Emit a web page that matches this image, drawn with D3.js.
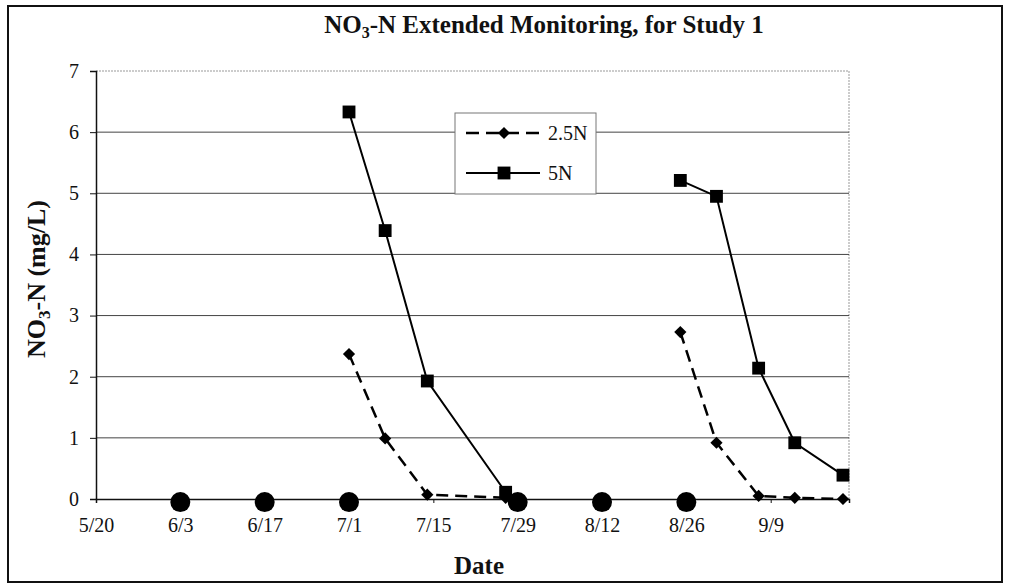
<!DOCTYPE html>
<html><head><meta charset="utf-8">
<script src="https://cdn.jsdelivr.net/npm/d3@7"></script>
<style>body{margin:0;background:#fff;} svg{display:block;}</style>
</head><body>
<svg id="c" width="1010" height="588"></svg>
<script>
// ---- data ----
const seriesNames = ["2.5N", "5N"];
const sampleDates = ["7/1","7/7","7/14","7/27",null,"8/25","8/31","9/7","9/13","9/21"];
const values25N = [2.37, 0.99, 0.07, 0.02, null, 2.73, 0.92, 0.05, 0.02, 0.00];
const values5N  = [6.33, 4.39, 1.93, 0.11, null, 5.21, 4.95, 2.14, 0.92, 0.39];
const circleDates  = ["6/3","6/17","7/1","7/29","8/12","8/26"];
const circleValues = [-0.05,-0.05,-0.05,-0.05,-0.05,-0.05];
const xTickLabels = ["5/20","6/3","6/17","7/1","7/15","7/29","8/12","8/26","9/9"];
const yTicks = [0,1,2,3,4,5,6,7];
const xDomain = ["5/20","9/22"];

const parse = s => s == null ? null : d3.timeParse("%Y/%m/%d")("2001/" + s);

const svg = d3.select("#c");
const L = 96, T = 71, R = 849, B = 499;
const x = d3.scaleTime().domain(xDomain.map(parse)).range([L, R]);
const y = d3.scaleLinear().domain([0, 7]).range([B, T]);
const serif = "'Liberation Serif','Times New Roman',serif";

// outer frame
svg.append("rect").attr("x",8).attr("y",6).attr("width",994).attr("height",576)
  .attr("fill","none").attr("stroke","#111").attr("stroke-width",2);

// title
const title = svg.append("text").attr("x",544).attr("y",33).attr("text-anchor","middle")
  .attr("font-family",serif).attr("font-weight","bold").attr("font-size",25).attr("fill","#111");
title.append("tspan").text("NO");
title.append("tspan").text("3").attr("font-size",16).attr("dy",5);
title.append("tspan").text("-N Extended Monitoring, for Study 1").attr("dy",-5);

// plot border (top/right light dotted)
svg.append("path").attr("d",`M${L},${T}H${R}V${B}`).attr("fill","none")
  .attr("stroke","#999").attr("stroke-width",1).attr("stroke-dasharray","2,1");

// gridlines
svg.append("g").selectAll("line").data(yTicks.filter(v => v > 0 && v < 7)).join("line")
  .attr("x1",L).attr("x2",R).attr("y1",d=>y(d)).attr("y2",d=>y(d))
  .attr("stroke","#444").attr("stroke-width",1);

// y axis
const yAxis = svg.append("g").attr("transform",`translate(${L},0)`)
  .call(d3.axisLeft(y).tickValues(yTicks).tickSize(6).tickPadding(11).tickFormat(d3.format("d")));
yAxis.select(".domain").attr("stroke","#111").attr("stroke-width",1.5);
yAxis.selectAll(".tick line").attr("stroke","#111");
yAxis.selectAll("text").attr("font-family",serif).attr("font-size",20).attr("fill","#111");

// x axis
const xAxis = svg.append("g").attr("transform",`translate(0,${B})`)
  .call(d3.axisBottom(x).tickValues(xTickLabels.map(parse)).tickSize(4).tickPadding(15)
    .tickFormat(d3.timeFormat("%-m/%-d")));
xAxis.select(".domain").attr("stroke","#111").attr("stroke-width",1.5);
xAxis.selectAll(".tick line").attr("stroke","#111");
xAxis.selectAll("text").attr("font-family",serif).attr("font-size",20).attr("fill","#111");

// axis titles
svg.append("text").attr("x",479).attr("y",574).attr("text-anchor","middle")
  .attr("font-family",serif).attr("font-weight","bold").attr("font-size",25).attr("fill","#111")
  .text("Date");
const yt = svg.append("text").attr("transform","translate(45,279) rotate(-90)").attr("text-anchor","middle")
  .attr("font-family",serif).attr("font-weight","bold").attr("font-size",26).attr("fill","#111");
yt.append("tspan").text("NO");
yt.append("tspan").text("3").attr("font-size",17).attr("dy",5);
yt.append("tspan").text("-N (mg/L)").attr("dy",-5);

// circles series
const circ = circleDates.map((d,i)=>({d:parse(d), v:circleValues[i]}));
svg.append("g").selectAll("circle").data(circ).join("circle")
  .attr("cx",d=>x(d.d)).attr("cy",d=>y(d.v)).attr("r",10).attr("fill","#000");

// lines
const rows = (vals) => sampleDates.map((d,i)=>({d:parse(d), v:vals[i]}));
const line = d3.line().defined(d=>d.v!=null).x(d=>x(d.d)).y(d=>y(d.v));
const r25 = rows(values25N), r5 = rows(values5N);
svg.append("path").datum(r25).attr("d",line).attr("fill","none").attr("stroke","#000")
  .attr("stroke-width",2.5).attr("stroke-dasharray","12,7");
svg.append("path").datum(r5).attr("d",line).attr("fill","none").attr("stroke","#000")
  .attr("stroke-width",2);

const diamond = d3.symbol().type(d3.symbolDiamond2).size(95);
const square = d3.symbol().type(d3.symbolSquare).size(165);
svg.append("g").selectAll("path").data(r25.filter(d=>d.v!=null)).join("path")
  .attr("transform",d=>`translate(${x(d.d)},${y(d.v)})`).attr("d",diamond).attr("fill","#000");
svg.append("g").selectAll("path").data(r5.filter(d=>d.v!=null)).join("path")
  .attr("transform",d=>`translate(${x(d.d)},${y(d.v)})`).attr("d",square).attr("fill","#000");

// legend
const lg = svg.append("g");
lg.append("rect").attr("x",455).attr("y",113).attr("width",141).attr("height",81)
  .attr("fill","#fff").attr("stroke","#777").attr("stroke-width",1);
const legY = [133, 173];
seriesNames.forEach((name,i)=>{
  lg.append("line").attr("x1",466).attr("x2",540).attr("y1",legY[i]).attr("y2",legY[i])
    .attr("stroke","#000").attr("stroke-width", i===0?2.5:2)
    .attr("stroke-dasharray", i===0?"13,7":null);
  lg.append("path").attr("transform",`translate(504,${legY[i]})`)
    .attr("d", i===0?diamond:square).attr("fill","#000");
  lg.append("text").attr("x",548).attr("y",legY[i]+7).attr("font-family",serif)
    .attr("font-size",20).attr("fill","#111").text(name);
});
</script>
</body></html>
